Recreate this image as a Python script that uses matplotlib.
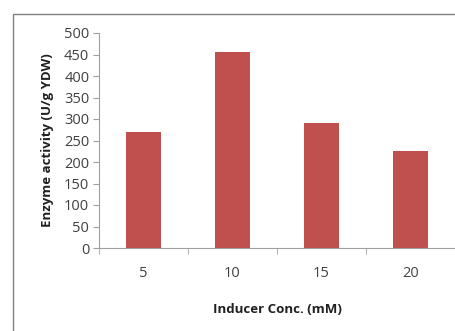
import matplotlib
matplotlib.use("Agg")
from matplotlib import pyplot as plt
from matplotlib.patches import Rectangle

conc = ["5", "10", "15", "20"]
activity = [270, 455, 290, 225]

plt.rcParams['font.family'] = ['Open Sans', 'DejaVu Sans']

fig = plt.figure(figsize=(4.56, 3.31), dpi=100)
fig.patches.append(Rectangle((13/456, -0.02), 1.05, 1 - 14/331 + 0.02,
                             transform=fig.transFigure, fill=False,
                             edgecolor='#808080', linewidth=1.0))

ax = fig.add_axes([99/456, 1 - 248/331, 356/456, 215/331])
pos = list(range(len(conc)))
ax.bar(pos, activity, width=0.4, color='#C0504D')

ax.set_xlim(-0.5, len(conc) - 0.5)
ax.set_ylim(0, 500)
ax.set_yticks(range(0, 501, 50))
ax.set_xticks(pos)
ax.set_xticklabels(conc)
ax.set_xticks([p - 0.5 for p in pos] + [len(conc) - 0.5], minor=True)
ax.tick_params(axis='x', which='major', length=0, pad=13, labelsize=10.5, colors='#404040')
ax.tick_params(axis='x', which='minor', length=4, color='#A0A0A0', direction='out')
ax.tick_params(axis='y', length=4, color='#A0A0A0', labelsize=10.5, labelcolor='#404040', pad=3)

for s in ['top', 'right']:
    ax.spines[s].set_visible(False)
ax.spines['left'].set_color('#A0A0A0')
ax.spines['bottom'].set_color('#A0A0A0')

ax.set_xlabel('Inducer Conc. (mM)', fontsize=9.5, fontweight='bold', color='#202020', labelpad=16)
ax.set_ylabel('Enzyme activity (U/g YDW)', fontsize=9.5, fontweight='bold', color='#202020', labelpad=7)

fig.savefig('out.png', dpi=100)
